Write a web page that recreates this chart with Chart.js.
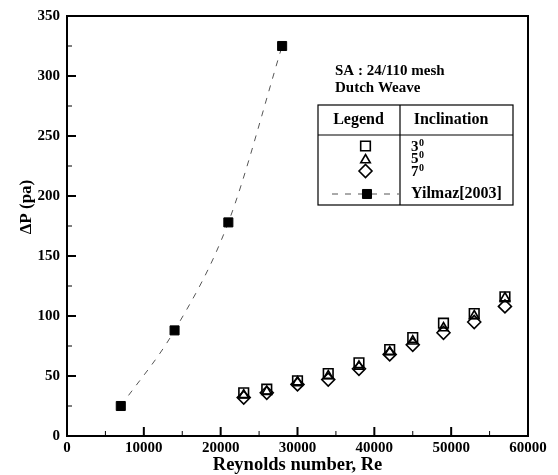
<!DOCTYPE html>
<html>
<head>
<meta charset="utf-8">
<script src="https://cdn.jsdelivr.net/npm/chart.js@4.4.0/dist/chart.umd.min.js"></script>
<style>
  html, body { margin: 0; padding: 0; background: #fff; }
  #c { display: block; }
</style>
</head>
<body>
<canvas id="c" width="558" height="475"></canvas>
<script>
// ---- data ----
const reynolds = [23000, 26000, 30000, 34000, 38000, 42000, 45000, 49000, 53000, 57000];
const incl3 = [36, 39, 46, 52, 61, 72, 82, 94, 102, 116];
const incl5 = [34, 37, 45, 50, 58, 70, 79, 90, 100, 115];
const incl7 = [32, 36, 43, 47, 56, 68, 76, 86, 95, 108];
const yilmazRe = [7000, 14000, 21000, 28000];
const yilmazDP = [25, 88, 178, 325];

const xTicks = [0, 10000, 20000, 30000, 40000, 50000, 60000];
const xTickLabels = ['0', '10000', '20000', '30000', '40000', '50000', '60000'];
const xMinor = [5000, 15000, 25000, 35000, 45000, 55000];
const yTicks = [0, 50, 100, 150, 200, 250, 300, 350];
const yTickLabels = ['0', '50', '100', '150', '200', '250', '300', '350'];
const yMinor = [25, 75, 125, 175, 225, 275, 325];

const seriesNames = ['3\u2070', '5\u2070', '7\u2070', 'Yilmaz[2003]'];
const noteLines = ['SA : 24/110 mesh', 'Dutch Weave'];
const legendHeaders = ['Legend', 'Inclination'];
const xTitle = 'Reynolds number, Re';
const yTitle = '\u0394P (pa)';

const FONT = '"Liberation Serif", "Times New Roman", serif';

function pts(xs, ys) { return xs.map((x, i) => ({ x: x, y: ys[i] })); }

function drawLabel(ctx, text, x, y) {
  if (text.endsWith('\u2070')) {
    const base = text.slice(0, -1);
    ctx.font = 'bold 15px ' + FONT;
    ctx.fillText(base, x, y + 1);
    const w = ctx.measureText(base).width;
    ctx.font = 'bold 10px ' + FONT;
    ctx.fillText('0', x + w + 0.5, y - 3);
  } else {
    ctx.font = 'bold 16px ' + FONT;
    ctx.fillText(text, x, y);
  }
}

const extras = {
  id: 'extras',
  afterDraw(chart) {
    const ctx = chart.ctx;
    const a = chart.chartArea;
    const xs = chart.scales.x, ys = chart.scales.y;
    ctx.save();
    ctx.strokeStyle = '#000';
    ctx.fillStyle = '#000';
    // frame
    ctx.lineWidth = 2;
    ctx.strokeRect(a.left, a.top, a.right - a.left, a.bottom - a.top);
    // inward ticks
    ctx.lineWidth = 2;
    ctx.beginPath();
    xTicks.forEach(v => { const p = xs.getPixelForValue(v); ctx.moveTo(p, a.bottom); ctx.lineTo(p, a.bottom - 9); });
    yTicks.forEach(v => { const p = ys.getPixelForValue(v); ctx.moveTo(a.left, p); ctx.lineTo(a.left + 9, p); });
    ctx.stroke();
    ctx.lineWidth = 1;
    ctx.beginPath();
    xMinor.forEach(v => { const p = xs.getPixelForValue(v); ctx.moveTo(p, a.bottom); ctx.lineTo(p, a.bottom - 5); });
    yMinor.forEach(v => { const p = ys.getPixelForValue(v); ctx.moveTo(a.left, p); ctx.lineTo(a.left + 5, p); });
    ctx.stroke();

    // axis titles
    ctx.font = 'bold 18.5px ' + FONT;
    ctx.textAlign = 'center';
    ctx.textBaseline = 'middle';
    ctx.fillText(xTitle, (a.left + a.right) / 2, 465);
    ctx.font = 'bold 17px ' + FONT;
    ctx.save();
    ctx.translate(27, 207);
    ctx.rotate(-Math.PI / 2);
    ctx.fillText(yTitle, 0, 0);
    ctx.restore();

    // notes
    ctx.font = 'bold 15px ' + FONT;
    ctx.textAlign = 'left';
    ctx.fillText(noteLines[0], 335, 71);
    ctx.fillText(noteLines[1], 335, 88);

    // legend box
    const L = 318, R = 513, T = 105, H = 135, B = 205, D = 400;
    ctx.lineWidth = 1.2;
    ctx.strokeRect(L, T, R - L, B - T);
    ctx.beginPath();
    ctx.moveTo(L, H); ctx.lineTo(R, H);
    ctx.moveTo(D, T); ctx.lineTo(D, B);
    ctx.stroke();
    ctx.font = 'bold 16px ' + FONT;
    ctx.textAlign = 'center';
    ctx.fillText(legendHeaders[0], 358.5, 120);
    ctx.fillText(legendHeaders[1], 451, 120);
    const rowY = [146, 158.5, 171, 194];
    ctx.textAlign = 'left';
    const dsets = chart.data.datasets;
    [0, 1, 2, 3].forEach((di, r) => {
      const ds = dsets[di];
      const y = rowY[r];
      if (di === 3) {
        ctx.save();
        ctx.strokeStyle = '#555';
        ctx.lineWidth = 1;
        ctx.setLineDash([6, 7]);
        ctx.beginPath(); ctx.moveTo(332, y); ctx.lineTo(399, y); ctx.stroke();
        ctx.restore();
      }
      ctx.save();
      ctx.strokeStyle = '#000';
      ctx.fillStyle = ds.pointBackgroundColor;
      ctx.lineWidth = ds.pointBorderWidth;
      Chart.helpers.drawPoint(ctx, { pointStyle: ds.pointStyle, radius: ds.pointRadius, rotation: 0, borderWidth: ds.pointBorderWidth }, di === 3 ? 367 : 365.5, y + (ds.pointStyle === 'triangle' ? 1.5 : 0));
      ctx.restore();
      ctx.fillStyle = '#000';
      drawLabel(ctx, seriesNames[di], 411, y);
    });
    ctx.restore();
  }
};

new Chart(document.getElementById('c'), {
  type: 'scatter',
  data: {
    datasets: [
      { label: seriesNames[0], data: pts(reynolds, incl3), pointStyle: 'rect', pointRadius: 6.8,
        pointBackgroundColor: 'rgba(0,0,0,0)', pointBorderColor: '#000', pointBorderWidth: 1.6, showLine: false },
      { label: seriesNames[1], data: pts(reynolds, incl5), pointStyle: 'triangle', pointRadius: 5.5,
        pointBackgroundColor: 'rgba(0,0,0,0)', pointBorderColor: '#000', pointBorderWidth: 1.6, showLine: false },
      { label: seriesNames[2], data: pts(reynolds, incl7), pointStyle: 'rectRot', pointRadius: 6.5,
        pointBackgroundColor: 'rgba(0,0,0,0)', pointBorderColor: '#000', pointBorderWidth: 1.6, showLine: false },
      { label: seriesNames[3], data: pts(yilmazRe, yilmazDP), pointStyle: 'rect', pointRadius: 6.4,
        pointBackgroundColor: '#000', pointBorderColor: '#000', pointBorderWidth: 1,
        showLine: true, borderColor: '#555', borderWidth: 1, borderDash: [6, 7],
        cubicInterpolationMode: 'monotone', fill: false }
    ]
  },
  options: {
    responsive: false,
    animation: false,
    events: [],
    layout: { padding: { left: 0, top: 12, right: 30, bottom: 0 } },
    plugins: { legend: { display: false }, tooltip: { enabled: false } },
    scales: {
      x: {
        type: 'linear', min: 0, max: 60000,
        grid: { display: false, drawTicks: false },
        border: { display: false },
        afterBuildTicks: s => { s.ticks = xTicks.map(v => ({ value: v })); },
        afterFit: s => { s.height = 39; },
        ticks: {
          padding: 3, maxRotation: 0, autoSkip: false, color: '#000',
          font: { family: FONT, size: 15, weight: 'bold' },
          callback: (v, i) => xTickLabels[i]
        }
      },
      y: {
        type: 'linear', min: 0, max: 350,
        grid: { display: false, drawTicks: false },
        border: { display: false },
        afterBuildTicks: s => { s.ticks = yTicks.map(v => ({ value: v })); },
        afterFit: s => { s.width = 67; },
        ticks: {
          padding: 7, autoSkip: false, color: '#000',
          font: { family: FONT, size: 15, weight: 'bold' },
          callback: (v, i) => yTickLabels[i]
        }
      }
    }
  },
  plugins: [extras]
});
</script>
</body>
</html>
